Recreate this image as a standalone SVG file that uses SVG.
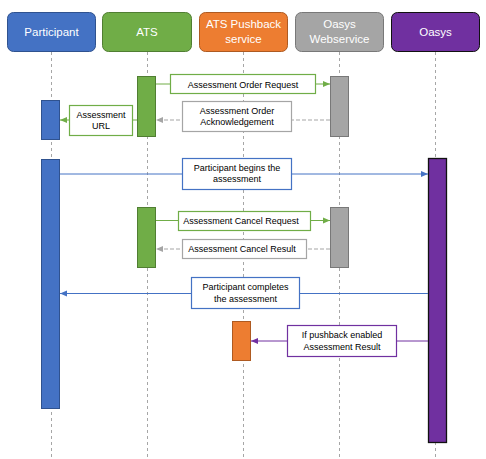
<svg xmlns="http://www.w3.org/2000/svg" width="486" height="459" viewBox="0 0 486 459">
<style>
.hd{font-family:"Liberation Sans",Arial,sans-serif;font-size:11.5px;fill:#fff;text-anchor:middle}
.lb{font-family:"Liberation Sans",Arial,sans-serif;font-size:9px;fill:#000;text-anchor:middle}
.life{stroke:#A6A6A6;stroke-width:1;stroke-dasharray:3,3;fill:none}
.box{fill:#fff;stroke-width:1.2}
</style>
<defs>
<marker id="aG" markerWidth="8" markerHeight="8" refX="7" refY="4" orient="auto" markerUnits="userSpaceOnUse"><path d="M0,1 L7,4 L0,7 z" fill="#70AD47"/></marker>
<marker id="aY" markerWidth="8" markerHeight="8" refX="7" refY="4" orient="auto" markerUnits="userSpaceOnUse"><path d="M0,1 L7,4 L0,7 z" fill="#A5A5A5"/></marker>
<marker id="aB" markerWidth="8" markerHeight="8" refX="7" refY="4" orient="auto" markerUnits="userSpaceOnUse"><path d="M0,1 L7,4 L0,7 z" fill="#4472C4"/></marker>
<marker id="aP" markerWidth="8" markerHeight="8" refX="7" refY="4" orient="auto" markerUnits="userSpaceOnUse"><path d="M0,1 L7,4 L0,7 z" fill="#7030A0"/></marker>
</defs>
<rect width="486" height="459" fill="#fff"/>
<g id="lifelines">
<line class="life" x1="51.5" y1="52" x2="51.5" y2="459"/>
<line class="life" x1="147.5" y1="52" x2="147.5" y2="459"/>
<line class="life" x1="243.5" y1="52" x2="243.5" y2="459"/>
<line class="life" x1="339.5" y1="52" x2="339.5" y2="459"/>
<line class="life" x1="435.5" y1="52" x2="435.5" y2="459"/>
</g>
<g id="participant">
<rect x="7.5" y="12.5" width="88" height="39" rx="6" fill="#4472C4" stroke="#2F528F"/>
<text class="hd" x="51.5" y="36">Participant</text>
<rect x="41.5" y="100.5" width="18" height="39" fill="#4472C4" stroke="#2F528F"/>
<rect x="41.5" y="159.5" width="18" height="249" fill="#4472C4" stroke="#2F528F"/>
</g>
<g id="ats">
<rect x="102.5" y="12.5" width="89" height="39" rx="6" fill="#70AD47" stroke="#507E32"/>
<text class="hd" x="147" y="36">ATS</text>
<rect x="137.5" y="76.5" width="18" height="60" fill="#70AD47" stroke="#507E32"/>
<rect x="137.5" y="207.5" width="18" height="60" fill="#70AD47" stroke="#507E32"/>
</g>
<g id="pushback">
<rect x="199.5" y="12.5" width="88" height="39" rx="6" fill="#ED7D31" stroke="#AE5A21"/>
<text class="hd" x="243.5" y="28">ATS Pushback</text>
<text class="hd" x="243.5" y="43">service</text>
<rect x="232.5" y="321.5" width="18" height="39" fill="#ED7D31" stroke="#AE5A21"/>
</g>
<g id="webservice">
<rect x="295.5" y="12.5" width="88" height="39" rx="6" fill="#A5A5A5" stroke="#787878"/>
<text class="hd" x="339.5" y="28">Oasys</text>
<text class="hd" x="339.5" y="43">Webservice</text>
<rect x="330.5" y="76.5" width="18" height="60" fill="#A5A5A5" stroke="#787878"/>
<rect x="330.5" y="207.5" width="18" height="60" fill="#A5A5A5" stroke="#787878"/>
</g>
<g id="oasys">
<rect x="391.5" y="12.5" width="88" height="39" rx="6" fill="#7030A0" stroke="#111"/>
<text class="hd" x="435.5" y="36">Oasys</text>
<rect x="428.5" y="158.5" width="18" height="284" fill="#7030A0" stroke="#111" stroke-width="1.3"/>
</g>
<g id="connectors">
<line x1="156" y1="84" x2="330" y2="84" stroke="#70AD47" marker-end="url(#aG)"/>
<line x1="330" y1="120" x2="156" y2="120" stroke="#A5A5A5" stroke-dasharray="4,2" marker-end="url(#aY)"/>
<line x1="137" y1="120" x2="60" y2="120" stroke="#70AD47" marker-end="url(#aG)"/>
<line x1="60" y1="174" x2="428" y2="174" stroke="#4472C4" marker-end="url(#aB)"/>
<line x1="156" y1="220.5" x2="330" y2="220.5" stroke="#70AD47" marker-end="url(#aG)"/>
<line x1="330" y1="249" x2="156" y2="249" stroke="#A5A5A5" stroke-dasharray="4,2" marker-end="url(#aY)"/>
<line x1="428" y1="293.5" x2="60" y2="293.5" stroke="#4472C4" marker-end="url(#aB)"/>
<line x1="428" y1="341" x2="251" y2="341" stroke="#7030A0" marker-end="url(#aP)"/>
</g>
<g id="labels">
<rect class="box" x="170.5" y="74.5" width="145" height="19" stroke="#70AD47"/>
<text class="lb" x="243" y="87.5">Assessment Order Request</text>
<rect class="box" x="182.5" y="101.5" width="109" height="30" stroke="#A5A5A5"/>
<text class="lb" x="237" y="114">Assessment Order</text>
<text class="lb" x="237" y="125">Acknowledgement</text>
<rect class="box" x="69.5" y="105.5" width="63" height="30" stroke="#70AD47"/>
<text class="lb" x="101" y="118">Assessment</text>
<text class="lb" x="101" y="129">URL</text>
<rect class="box" x="182.5" y="158.5" width="109" height="31" stroke="#4472C4"/>
<text class="lb" x="237" y="171">Participant begins the</text>
<text class="lb" x="237" y="182">assessment</text>
<rect class="box" x="178.5" y="211.5" width="132" height="19" stroke="#70AD47"/>
<text class="lb" x="241" y="224">Assessment Cancel Request</text>
<rect class="box" x="182.5" y="239.5" width="124" height="19" stroke="#A5A5A5"/>
<text class="lb" x="242" y="252">Assessment Cancel Result</text>
<rect class="box" x="191.5" y="277.5" width="108" height="31" stroke="#4472C4"/>
<text class="lb" x="245.5" y="290">Participant completes</text>
<text class="lb" x="245.5" y="301.5">the assessment</text>
<rect class="box" x="287.5" y="325.5" width="109" height="31" stroke="#7030A0"/>
<text class="lb" x="342" y="338">If pushback enabled</text>
<text class="lb" x="342" y="349.5">Assessment Result</text>
</g>
</svg>
